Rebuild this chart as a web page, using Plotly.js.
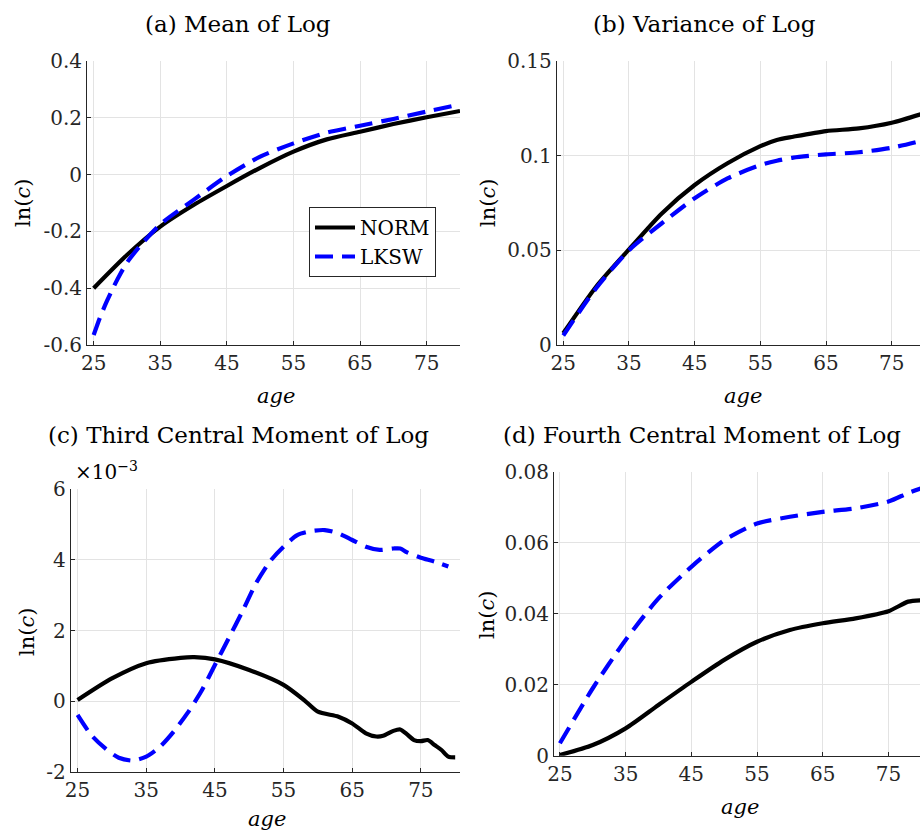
<!DOCTYPE html>
<html>
<head>
<meta charset="utf-8">
<script src="https://cdn.plot.ly/plotly-3.0.1.min.js"></script>
<style>html,body{margin:0;padding:0;background:#fff;}#chart{width:920px;height:831px;}</style>
</head>
<body>
<div id="chart"></div>
<script>
// ---- Data ----
const seriesNames = ["NORM", "LKSW"];

// (a) Mean of Log
const ageA_norm = [25, 30, 35, 40, 45, 50, 55, 60, 65, 70, 75, 80];
const meanNorm  = [-0.400, -0.283, -0.183, -0.107, -0.040, 0.024, 0.081, 0.124, 0.151, 0.178, 0.202, 0.224];
const ageA_lksw = [25, 26, 27, 28, 29, 30, 32, 35, 40, 45, 50, 55, 60, 65, 70, 75, 79];
const meanLksw  = [-0.565, -0.500, -0.445, -0.395, -0.350, -0.310, -0.250, -0.175, -0.089, -0.005, 0.063, 0.110, 0.148, 0.172, 0.196, 0.222, 0.242];

// (b) Variance of Log
const ageB = [25, 30, 35, 40, 45, 50, 55, 57.5, 60, 65, 70, 75, 80];
const varNorm = [0.0062, 0.0308, 0.0505, 0.0695, 0.0845, 0.0960, 0.1050, 0.1083, 0.1100, 0.1130, 0.1144, 0.1174, 0.1225];
const varLksw = [0.0050, 0.0300, 0.0500, 0.0643, 0.0775, 0.0880, 0.0950, 0.0973, 0.0990, 0.1007, 0.1018, 0.1042, 0.1083];

// (c) Third central moment of log (x 1e-3)
const ageC_norm = [25, 30, 35, 40, 42, 45, 50, 55, 58, 60, 63, 65, 67, 68.5, 69.5, 71, 72, 73, 74, 75, 76, 77, 78, 79, 80];
const thirdNorm = [0.04, 0.65, 1.08, 1.23, 1.25, 1.19, 0.89, 0.47, 0.04, -0.29, -0.43, -0.62, -0.90, -0.99, -0.97, -0.83, -0.79, -0.93, -1.09, -1.12, -1.09, -1.23, -1.37, -1.56, -1.58];
const ageC_lksw = [25, 27, 29, 31, 33, 35, 37, 39, 41, 43, 45, 47, 49, 51, 53, 55, 57, 59, 61, 63, 65, 67, 69, 71, 72, 73, 75, 77, 79];
const thirdLksw = [-0.38, -0.95, -1.32, -1.59, -1.67, -1.56, -1.28, -0.85, -0.33, 0.28, 1.03, 1.78, 2.54, 3.34, 3.95, 4.37, 4.70, 4.81, 4.84, 4.75, 4.56, 4.37, 4.28, 4.32, 4.32, 4.21, 4.06, 3.95, 3.81];

// (d) Fourth central moment of log
const ageD = [25, 30, 35, 40, 45, 50, 55, 60, 65, 70, 75, 78, 80];
const fourthNorm = [0.0002, 0.0030, 0.0077, 0.0143, 0.0208, 0.0270, 0.0321, 0.0354, 0.0373, 0.0387, 0.0407, 0.0434, 0.0438];
const fourthLksw = [0.0035, 0.0190, 0.0326, 0.0443, 0.0532, 0.0607, 0.0654, 0.0673, 0.0687, 0.0697, 0.0716, 0.0740, 0.0753];

// ---- Tick labels ----
const xTickVals = [25, 35, 45, 55, 65, 75];
const xTickText = ["25", "35", "45", "55", "65", "75"];
const yTickA = [-0.6, -0.4, -0.2, 0, 0.2, 0.4];
const yTextA = ["-0.6", "-0.4", "-0.2", "0", "0.2", "0.4"];
const yTickB = [0, 0.05, 0.1, 0.15];
const yTextB = ["0", "0.05", "0.1", "0.15"];
const yTickC = [-2, 0, 2, 4, 6];
const yTextC = ["-2", "0", "2", "4", "6"];
const yTickD = [0, 0.02, 0.04, 0.06, 0.08];
const yTextD = ["0", "0.02", "0.04", "0.06", "0.08"];

const panelTitles = ["(a) Mean of Log", "(b) Variance of Log", "(c) Third Central Moment of Log", "(d) Fourth Central Moment of Log"];

// ---- Styling ----
const W = 920, H = 831;
const FONT = "DejaVu Serif";
const AX = "#262626";
const GRID = "#e3e3e3";
const px = v => v / W;
const py = v => 1 - v / H;

const normLine = {color: "#000000", width: 4.2};
const lkswLine = {color: "#0000ff", width: 4.2, dash: "18px,9px"};

function trace(x, y, name, line, xa, ya, show) {
  return {x: x, y: y, name: name, type: "scatter", mode: "lines", line: Object.assign({shape: "spline", smoothing: 0.7}, line),
          xaxis: xa, yaxis: ya, showlegend: show};
}

const data = [
  trace(ageA_norm, meanNorm, seriesNames[0], normLine, "x", "y", true),
  trace(ageA_lksw, meanLksw, seriesNames[1], lkswLine, "x", "y", true),
  trace(ageB, varNorm, seriesNames[0], normLine, "x2", "y2", false),
  trace(ageB, varLksw, seriesNames[1], lkswLine, "x2", "y2", false),
  trace(ageC_norm, thirdNorm, seriesNames[0], normLine, "x3", "y3", false),
  trace(ageC_lksw, thirdLksw, seriesNames[1], lkswLine, "x3", "y3", false),
  trace(ageD, fourthNorm, seriesNames[0], normLine, "x4", "y4", false),
  trace(ageD, fourthLksw, seriesNames[1], lkswLine, "x4", "y4", false)
];

function xaxis(domain, range, anchor) {
  return {domain: domain, range: range, anchor: anchor, tickvals: xTickVals, ticktext: xTickText,
          showgrid: true, gridcolor: GRID, gridwidth: 1, zeroline: false,
          showline: true, linecolor: AX, linewidth: 1, ticks: "inside", ticklen: 4, tickcolor: AX,
          tickfont: {family: FONT, size: 20, color: AX}, fixedrange: true};
}
function yaxis(domain, range, anchor, tv, tt) {
  return {domain: domain, range: range, anchor: anchor, tickvals: tv, ticktext: tt,
          showgrid: true, gridcolor: GRID, gridwidth: 1, zeroline: false,
          showline: true, linecolor: AX, linewidth: 1, ticks: "inside", ticklen: 4, tickcolor: AX,
          tickfont: {family: FONT, size: 20, color: AX}, fixedrange: true};
}

function ann(text, x, y, size, extra) {
  return Object.assign({text: text, x: px(x), y: py(y), xref: "paper", yref: "paper", showarrow: false,
                        xanchor: "center", yanchor: "middle", font: {family: FONT, size: size, color: "#000"}}, extra || {});
}

const layout = {
  width: W, height: H,
  margin: {l: 0, r: 0, t: 0, b: 0},
  paper_bgcolor: "#ffffff", plot_bgcolor: "#ffffff",
  font: {family: FONT},
  showlegend: true,
  legend: {x: px(309), y: py(207), xanchor: "left", yanchor: "top", bgcolor: "#ffffff",
           bordercolor: "#262626", borderwidth: 1, font: {family: FONT, size: 20, color: "#000"},
           tracegroupgap: 0, itemwidth: 40},
  xaxis:  xaxis([px(87), px(460)], [24, 80], "y"),
  yaxis:  yaxis([py(345), py(61)], [-0.6, 0.4], "x", yTickA, yTextA),
  xaxis2: xaxis([px(556.7), 1], [24, 79.3], "y2"),
  yaxis2: yaxis([py(345), py(61)], [0, 0.15], "x2", yTickB, yTextB),
  xaxis3: xaxis([px(70.7), px(460)], [24, 80.7], "y3"),
  yaxis3: yaxis([py(772.3), py(489)], [-2, 6], "x3", yTickC, yTextC),
  xaxis4: xaxis([px(554), 1], [24.1, 79.8], "y4"),
  yaxis4: yaxis([py(755.7), py(471.7)], [0, 0.08], "x4", yTickD, yTextD),
  annotations: [
    ann(panelTitles[0], 238, 24, 23),
    ann(panelTitles[1], 704, 24, 23),
    ann(panelTitles[2], 238, 435, 23),
    ann(panelTitles[3], 702, 435, 23),
    ann("<i>age</i>", 276, 396, 21),
    ann("<i>age</i>", 743, 396, 21),
    ann("<i>age</i>", 267, 819, 21),
    ann("<i>age</i>", 740, 807, 21),
    ann("ln(<i>c</i>)", 23, 203, 21, {textangle: -90}),
    ann("ln(<i>c</i>)", 488, 203, 21, {textangle: -90}),
    ann("ln(<i>c</i>)", 27, 632, 21, {textangle: -90}),
    ann("ln(<i>c</i>)", 487, 615, 21, {textangle: -90}),
    ann("×10<sup>−3</sup>", 73, 471, 20, {xanchor: "left"})
  ]
};

Plotly.newPlot("chart", data, layout, {displayModeBar: false, staticPlot: true});
</script>
</body>
</html>
